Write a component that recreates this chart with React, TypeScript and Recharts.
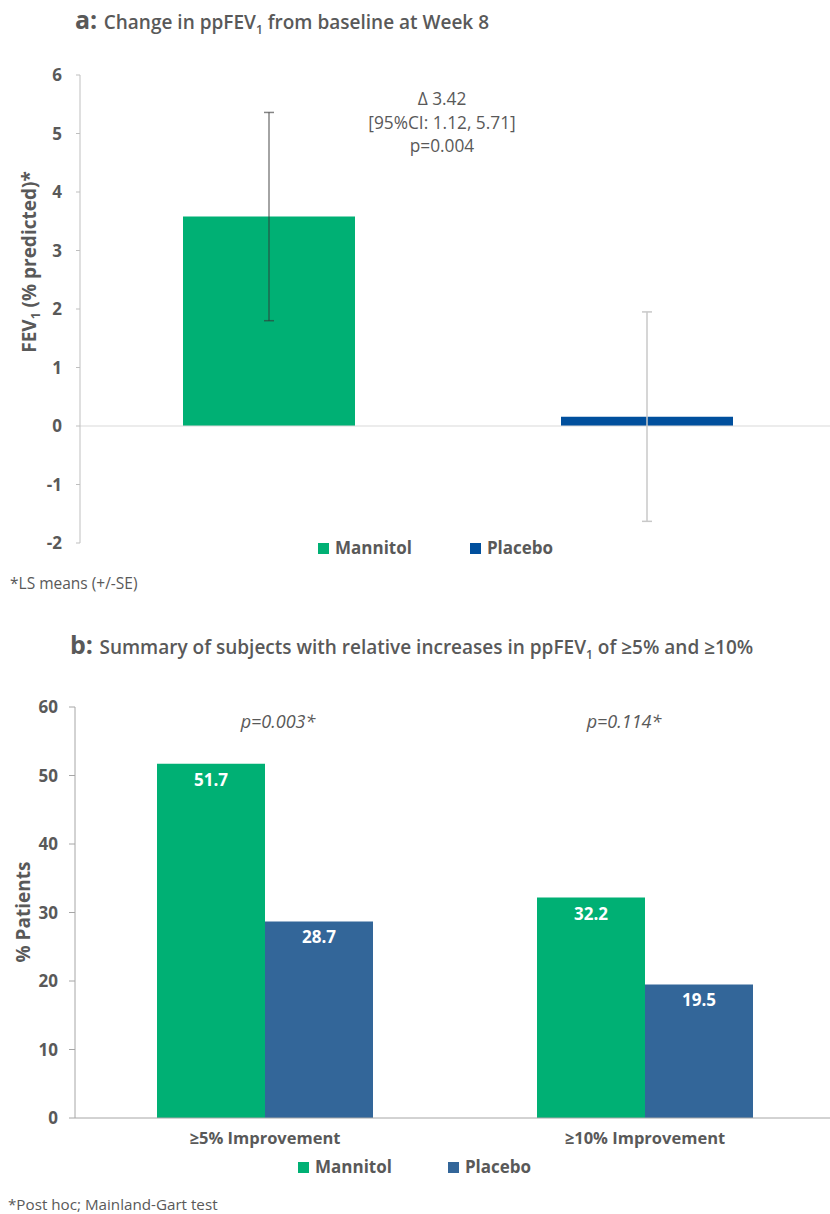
import { BarChart, Bar, XAxis, YAxis, ReferenceLine, ErrorBar, LabelList } from 'recharts'

// ── Data ───────────────────────────────────────────────────────

const groupsA = ['Mannitol', 'Placebo']
const changeMean = [3.58, 0.16]
const changeSe = [1.78, 1.79]
const ticksA = [-2, -1, 0, 1, 2, 3, 4, 5, 6]

const categoriesB = ['≥5% Improvement', '≥10% Improvement']
const mannitolPct = [51.7, 32.2]
const placeboPct = [28.7, 19.5]
const pValuesB = ['p=0.003*', 'p=0.114*']
const ticksB = [0, 10, 20, 30, 40, 50, 60]

// ── Style ──────────────────────────────────────────────────────

const GREEN = '#00B074'
const BLUE_A = '#004F9D'
const BLUE_B = '#336699'
const GREY = '#595959'
const AXIS = '#bfbfbf'
const FONT = '"Open Sans", sans-serif'

const dataA = groupsA.map((g, i) => ({
  name: g,
  mannitol: g === 'Mannitol' ? changeMean[i] : undefined,
  mannitolSe: g === 'Mannitol' ? changeSe[i] : undefined,
  placebo: g === 'Placebo' ? changeMean[i] : undefined,
  placeboSe: g === 'Placebo' ? changeSe[i] : undefined,
}))

const dataB = categoriesB.map((c, i) => ({
  name: c,
  mannitol: mannitolPct[i],
  placebo: placeboPct[i],
}))

const tickStyle = { fill: GREY, fontSize: 17, fontWeight: 700, fontFamily: FONT }

function LegendRow({ items, top, left, gap }: { items: { label: string; color: string }[]; top: number; left: number; gap: number }) {
  return (
    <div style={{ position: 'absolute', top, left, display: 'flex', gap, alignItems: 'center' }}>
      {items.map((it) => (
        <div key={it.label} style={{ display: 'flex', alignItems: 'center', gap: 6 }}>
          <span style={{ width: 11, height: 11, background: it.color, display: 'inline-block' }} />
          <span style={{ color: GREY, fontSize: 17, fontWeight: 700, fontFamily: FONT, lineHeight: '20px' }}>{it.label}</span>
        </div>
      ))}
    </div>
  )
}

function Title({ letter, children, top, left }: { letter: string; children: React.ReactNode; top: number; left: number }) {
  return (
    <div style={{ position: 'absolute', top, left, color: GREY, fontFamily: FONT, whiteSpace: 'nowrap' }}>
      <span style={{ fontSize: 25, fontWeight: 700 }}>{letter}: </span>
      <span style={{ fontSize: 19, fontWeight: 600 }}>{children}</span>
    </div>
  )
}

export default function App() {
  return (
    <div style={{ position: 'absolute', left: 0, top: 0, width: 830, height: 1214, overflow: 'hidden', background: '#fff', fontFamily: FONT }}>
      {/* ── Panel a ── */}
      <Title letter="a" top={2} left={75}>
        Change in ppFEV<sub style={{ fontSize: 12 }}>1</sub> from baseline at Week 8
      </Title>

      <div style={{ position: 'absolute', top: 0, left: 0 }}>
        <BarChart width={840} height={560} data={dataA} margin={{ top: 75, right: 4, bottom: 17, left: 0 }}>
          <XAxis dataKey="name" hide />
          <XAxis xAxisId="n" type="number" domain={[0, 2]} hide allowDataOverflow />
          <YAxis domain={[-2, 6]} ticks={ticksA} width={80} tickSize={4} tickMargin={14}
            axisLine={{ stroke: AXIS }} tickLine={{ stroke: AXIS }} tick={tickStyle} />
          <ReferenceLine y={0} stroke="#d9d9d9" />
          <ReferenceLine xAxisId="n" segment={[{ x: 1, y: 0 }, { x: 1, y: -0.11 }]} stroke="#d9d9d9" />
          <Bar dataKey="mannitol" stackId="s" fill={GREEN} barSize={172} isAnimationActive={false}>
            <ErrorBar dataKey="mannitolSe" width={5} stroke="#333" strokeOpacity={0.6} />
          </Bar>
          <Bar dataKey="placebo" stackId="s" fill={BLUE_A} barSize={172} isAnimationActive={false}>
            <ErrorBar dataKey="placeboSe" width={5} stroke="#c8c8c8" />
          </Bar>
        </BarChart>
      </div>

      <div style={{ position: 'absolute', top: 87, left: 342, width: 200, textAlign: 'center', color: GREY, fontSize: 17.3, lineHeight: '23.5px' }}>
        Δ 3.42<br />[95%CI: 1.12, 5.71]<br />p=0.004
      </div>

      <div style={{ position: 'absolute', left: 30, top: 262, width: 0, height: 0 }}>
        <div style={{ position: 'absolute', transform: 'translate(-50%, -50%) rotate(-90deg)', whiteSpace: 'nowrap', color: GREY, fontSize: 19, fontWeight: 700 }}>
          FEV<sub style={{ fontSize: 12 }}>1</sub> (% predicted)*
        </div>
      </div>

      <LegendRow top={538} left={318} gap={58}
        items={[{ label: 'Mannitol', color: GREEN }, { label: 'Placebo', color: BLUE_A }]} />

      <div style={{ position: 'absolute', top: 572, left: 10, color: GREY, fontSize: 15.5 }}>*LS means (+/-SE)</div>

      {/* ── Panel b ── */}
      <Title letter="b" top={627} left={70}>
        Summary of subjects with relative increases in ppFEV<sub style={{ fontSize: 12 }}>1</sub> of ≥5% and ≥10%
      </Title>

      <div style={{ position: 'absolute', top: 620, left: 0 }}>
        <BarChart width={840} height={540} data={dataB} barGap={0} margin={{ top: 87, right: 5, bottom: 12, left: 0 }}>
          <XAxis dataKey="name" tickLine={false} axisLine={{ stroke: '#a6a6a6' }} tickMargin={8} tick={{ ...tickStyle, fontSize: 16.5 }} />
          <XAxis xAxisId="n" type="number" domain={[0, 2]} hide allowDataOverflow />
          <YAxis domain={[0, 60]} ticks={ticksB} width={75} tickSize={6} tickMargin={11}
            axisLine={{ stroke: '#a6a6a6' }} tickLine={{ stroke: '#a6a6a6' }} tick={tickStyle} />
          <ReferenceLine xAxisId="n" segment={[{ x: 1, y: 0 }, { x: 1, y: -0.9 }]} stroke="#a6a6a6" ifOverflow="visible" />
          <Bar dataKey="mannitol" fill={GREEN} barSize={108} isAnimationActive={false}>
            <LabelList dataKey="mannitol" position="insideTop" offset={10} fill="#fff" fontSize={17} fontWeight={700} fontFamily={FONT} />
          </Bar>
          <Bar dataKey="placebo" fill={BLUE_B} barSize={108} isAnimationActive={false}>
            <LabelList dataKey="placebo" position="insideTop" offset={10} fill="#fff" fontSize={17} fontWeight={700} fontFamily={FONT} />
          </Bar>
        </BarChart>
      </div>

      <div style={{ position: 'absolute', top: 709, left: 228, width: 100, textAlign: 'center', color: GREY, fontSize: 18, fontStyle: 'italic' }}>{pValuesB[0]}</div>
      <div style={{ position: 'absolute', top: 709, left: 574, width: 100, textAlign: 'center', color: GREY, fontSize: 18, fontStyle: 'italic' }}>{pValuesB[1]}</div>

      <div style={{ position: 'absolute', left: 23, top: 912, width: 0, height: 0 }}>
        <div style={{ position: 'absolute', transform: 'translate(-50%, -50%) rotate(-90deg)', whiteSpace: 'nowrap', color: GREY, fontSize: 19, fontWeight: 700 }}>
          % Patients
        </div>
      </div>

      <LegendRow top={1157} left={298} gap={56}
        items={[{ label: 'Mannitol', color: GREEN }, { label: 'Placebo', color: BLUE_B }]} />

      <div style={{ position: 'absolute', top: 1194, left: 8, color: GREY, fontSize: 15.2 }}>*Post hoc; Mainland-Gart test</div>
    </div>
  )
}
